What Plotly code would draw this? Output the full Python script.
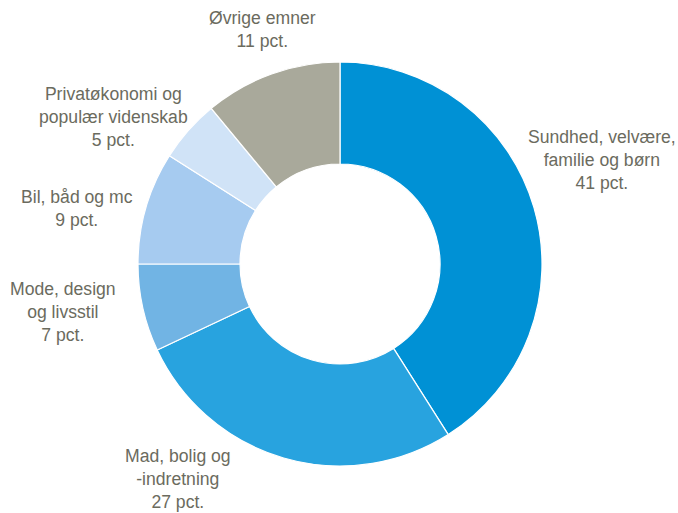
import plotly.graph_objects as go

labels = ["Sundhed, velvære,<br>familie og børn", "Mad, bolig og<br>-indretning",
          "Mode, design<br>og livsstil", "Bil, båd og mc",
          "Privatøkonomi og<br>populær videnskab", "Øvrige emner"]
values = [41, 27, 7, 9, 5, 11]
colors = ["#0091D5", "#28A3DF", "#71B4E4", "#A6CBF0", "#D0E3F7", "#A9A99B"]

W, H = 678, 513
cx, cy, R = 340, 264, 202

# label block centres in pixels (layout, not data)
label_pos = [(602, 160), (178, 479), (63, 312), (77, 208), (113, 117), (262, 29)]

fig = go.Figure(go.Pie(
    values=values,
    labels=labels,
    textinfo="none",
    hole=0.495,
    sort=False,
    direction="clockwise",
    rotation=0,
    marker=dict(colors=colors, line=dict(color="white", width=1.2)),
    domain=dict(x=[(cx - R) / W, (cx + R) / W], y=[(H - cy - R) / H, (H - cy + R) / H]),
    showlegend=False,
))

for lab, val, (px, py) in zip(labels, values, label_pos):
    fig.add_annotation(
        x=px / W, y=1 - py / H, xref="paper", yref="paper",
        xanchor="center", yanchor="middle", showarrow=False,
        text=f"{lab}<br>{val} pct.", align="center",
        font=dict(family="Liberation Sans, Arial, sans-serif", size=17.6, color="#6B6B5E"),
    )

fig.update_layout(
    width=W, height=H,
    margin=dict(l=0, r=0, t=0, b=0),
    paper_bgcolor="white",
    plot_bgcolor="white",
)

fig.write_html("out.html", config={"displayModeBar": False},
               post_script="document.body.style.margin='0';document.body.style.overflow='hidden';")
